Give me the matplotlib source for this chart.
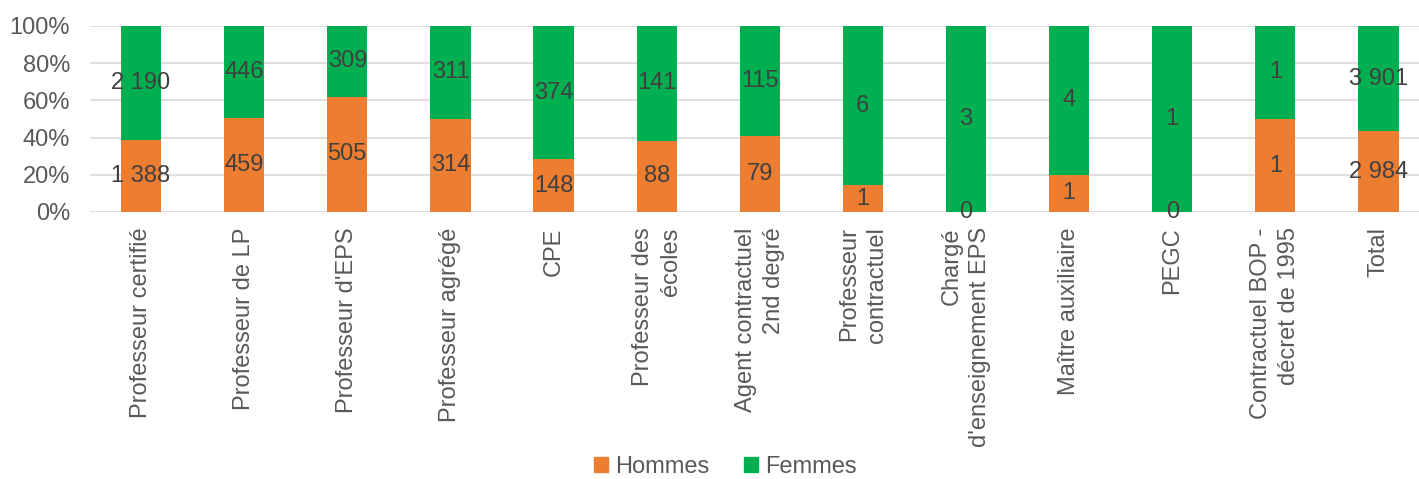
import matplotlib
matplotlib.use("Agg")
import matplotlib.pyplot as plt
from matplotlib.patches import Patch

plt.rcParams['font.family'] = ['Liberation Sans', 'DejaVu Sans']

categories = ["Professeur certifié", "Professeur de LP", "Professeur d'EPS",
              "Professeur agrégé", "CPE", "Professeur des\nécoles",
              "Agent contractuel\n2nd degré", "Professeur\ncontractuel",
              "Chargé\nd'enseignement EPS", "Maître auxiliaire", "PEGC",
              "Contractuel BOP -\ndécret de 1995", "Total"]
hommes = [1388, 459, 505, 314, 148, 88, 79, 1, 0, 1, 0, 1, 2984]
femmes = [2190, 446, 309, 311, 374, 141, 115, 6, 3, 4, 1, 1, 3901]
hommes_labels = ["1 388", "459", "505", "314", "148", "88", "79", "1", "0", "1", "0", "1", "2 984"]
femmes_labels = ["2 190", "446", "309", "311", "374", "141", "115", "6", "3", "4", "1", "1", "3 901"]

W, H = 1419, 479
FS = 17
fig = plt.figure(figsize=(W/100, H/100), dpi=100)
left_px, right_px = 89.5, 1430
top_px, bot_px = 26, 212
ax = fig.add_axes([left_px/W, 1 - bot_px/H, (right_px-left_px)/W, (bot_px-top_px)/H])

x = list(range(len(categories)))
tot = [h + f for h, f in zip(hommes, femmes)]
hp = [h / t for h, t in zip(hommes, tot)]
fp = [f / t for f, t in zip(femmes, tot)]

orange = '#ED7D31'
green = '#00B050'
ax.bar(x, hp, width=0.39, color=orange, zorder=2)
ax.bar(x, fp, bottom=hp, width=0.39, color=green, zorder=2)

for i in x:
    ax.text(i, hp[i] / 2, hommes_labels[i], ha='center', va='center',
            fontsize=FS, color='#404040', zorder=3)
    ax.text(i, hp[i] + fp[i] / 2, femmes_labels[i], ha='center', va='center',
            fontsize=FS, color='#404040', zorder=3)

ax.set_xlim(-0.5, len(categories) - 0.5)
ax.set_ylim(0, 1)
ax.set_yticks([0, 0.2, 0.4, 0.6, 0.8, 1.0])
ax.set_yticklabels(["0%", "20%", "40%", "60%", "80%", "100%"])
ax.yaxis.grid(True, color='#D9D9D9', linewidth=1.2, zorder=0)
ax.set_axisbelow(True)
for s in ax.spines.values():
    s.set_visible(False)
ax.tick_params(axis='both', length=0, labelsize=FS, colors='#595959')
ax.tick_params(axis='y', pad=14)
ax.set_xticks(x)
ax.set_xticklabels(categories, rotation=90, ha='center', va='top',
                   multialignment='right', linespacing=1.35)
ax.tick_params(axis='x', pad=11)

handles = [Patch(color=orange, label='Hommes'), Patch(color=green, label='Femmes')]
fig.legend(handles=handles, loc='center', bbox_to_anchor=(0.511, 0.026),
           ncol=2, frameon=False, fontsize=FS, handlelength=0.6, handleheight=0.6,
           handletextpad=0.3, columnspacing=1.45, labelcolor='#595959')

fig.savefig('out.png', dpi=100)
